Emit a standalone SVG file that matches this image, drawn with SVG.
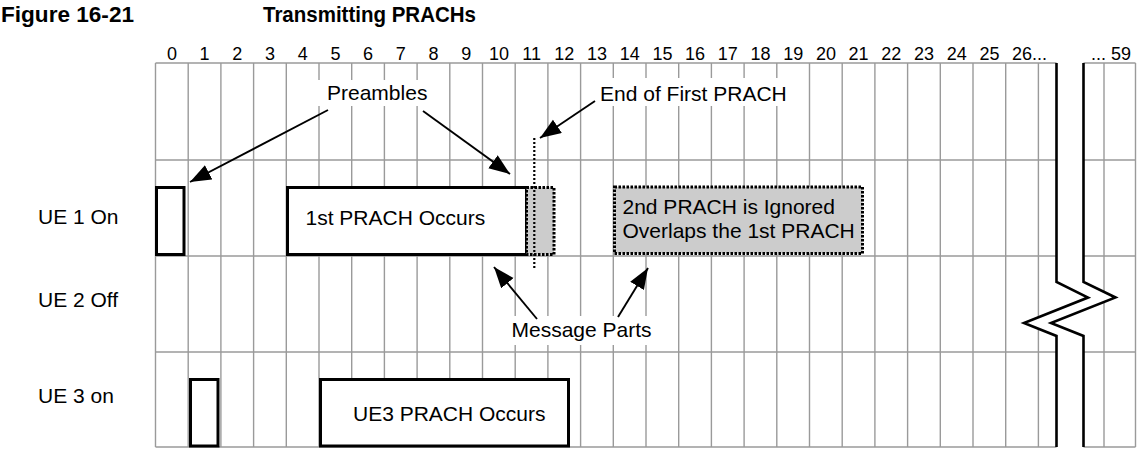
<svg xmlns="http://www.w3.org/2000/svg" width="1142" height="450" viewBox="0 0 1142 450">
<style>
  .title { font-family: "Liberation Sans Narrow", "Liberation Sans", Arial, sans-serif; font-weight: bold; font-size: 22px; fill: #000; }
  .num { font-family: "Liberation Sans", Arial, sans-serif; font-size: 18px; fill: #000; text-anchor: middle; }
  .lbl { font-family: "Liberation Sans", Arial, sans-serif; font-size: 21px; fill: #000; }
  .grid line { stroke: #9a9a9a; stroke-width: 1.4; }
  .solid { fill: #fff; stroke: #000; stroke-width: 3; }
  .dotted { fill: #cccccc; stroke: #000; stroke-width: 3; stroke-dasharray: 2.5 1.5; }
  .arrow { stroke: #000; stroke-width: 1.9; fill: none; marker-end: url(#ah); }
  .brk { fill: none; stroke: #000; stroke-width: 2.6; stroke-linejoin: miter; }
</style>
<defs>
  <marker id="ah" markerUnits="userSpaceOnUse" markerWidth="24" markerHeight="18" refX="21" refY="8" orient="auto">
    <path d="M0,0 L21,8 L0,16 z" fill="#000"/>
  </marker>
</defs>
<rect width="1142" height="450" fill="#fff"/>

<g id="title">
  <text class="title" x="1" y="22" textLength="133" lengthAdjust="spacingAndGlyphs">Figure 16-21</text>
  <text class="title" x="263" y="22" textLength="213" lengthAdjust="spacingAndGlyphs">Transmitting PRACHs</text>
</g>

<g id="ruler">
  <text class="num" x="171.9" y="60">0</text>
  <text class="num" x="204.6" y="60">1</text>
  <text class="num" x="237.3" y="60">2</text>
  <text class="num" x="270" y="60">3</text>
  <text class="num" x="302.7" y="60">4</text>
  <text class="num" x="335.4" y="60">5</text>
  <text class="num" x="368.1" y="60">6</text>
  <text class="num" x="400.8" y="60">7</text>
  <text class="num" x="433.5" y="60">8</text>
  <text class="num" x="466.2" y="60">9</text>
  <text class="num" x="498.9" y="60">10</text>
  <text class="num" x="531.6" y="60">11</text>
  <text class="num" x="564.3" y="60">12</text>
  <text class="num" x="597" y="60">13</text>
  <text class="num" x="629.7" y="60">14</text>
  <text class="num" x="662.4" y="60">15</text>
  <text class="num" x="695.1" y="60">16</text>
  <text class="num" x="727.8" y="60">17</text>
  <text class="num" x="760.5" y="60">18</text>
  <text class="num" x="793.2" y="60">19</text>
  <text class="num" x="825.9" y="60">20</text>
  <text class="num" x="858.6" y="60">21</text>
  <text class="num" x="891.3" y="60">22</text>
  <text class="num" x="924" y="60">23</text>
  <text class="num" x="956.7" y="60">24</text>
  <text class="num" x="989.4" y="60">25</text>
  <text class="num" x="1012" y="60" style="text-anchor:start">26...</text>
  <text class="num" x="1131" y="60" style="text-anchor:end">... 59</text>
</g>

<g id="grid" class="grid">
  <line x1="155.5" y1="63" x2="1135.5" y2="63"/>
  <line x1="155.5" y1="160" x2="1135.5" y2="160"/>
  <line x1="155.5" y1="256" x2="1135.5" y2="256"/>
  <line x1="155.5" y1="352" x2="1135.5" y2="352"/>
  <line x1="155.5" y1="447" x2="1135.5" y2="447"/>
  <line x1="155.5" y1="63" x2="155.5" y2="447"/>
  <line x1="188.2" y1="63" x2="188.2" y2="447"/>
  <line x1="220.9" y1="63" x2="220.9" y2="447"/>
  <line x1="253.6" y1="63" x2="253.6" y2="447"/>
  <line x1="286.3" y1="63" x2="286.3" y2="447"/>
  <line x1="319" y1="63" x2="319" y2="447"/>
  <line x1="351.7" y1="63" x2="351.7" y2="447"/>
  <line x1="384.4" y1="63" x2="384.4" y2="447"/>
  <line x1="417.1" y1="63" x2="417.1" y2="447"/>
  <line x1="449.8" y1="63" x2="449.8" y2="447"/>
  <line x1="482.5" y1="63" x2="482.5" y2="447"/>
  <line x1="515.2" y1="63" x2="515.2" y2="447"/>
  <line x1="547.9" y1="63" x2="547.9" y2="447"/>
  <line x1="580.6" y1="63" x2="580.6" y2="447"/>
  <line x1="613.3" y1="63" x2="613.3" y2="447"/>
  <line x1="646" y1="63" x2="646" y2="447"/>
  <line x1="678.7" y1="63" x2="678.7" y2="447"/>
  <line x1="711.4" y1="63" x2="711.4" y2="447"/>
  <line x1="744.1" y1="63" x2="744.1" y2="447"/>
  <line x1="776.8" y1="63" x2="776.8" y2="447"/>
  <line x1="809.5" y1="63" x2="809.5" y2="447"/>
  <line x1="842.2" y1="63" x2="842.2" y2="447"/>
  <line x1="874.9" y1="63" x2="874.9" y2="447"/>
  <line x1="907.6" y1="63" x2="907.6" y2="447"/>
  <line x1="940.3" y1="63" x2="940.3" y2="447"/>
  <line x1="973" y1="63" x2="973" y2="447"/>
  <line x1="1005.7" y1="63" x2="1005.7" y2="447"/>
  <line x1="1038.4" y1="63" x2="1038.4" y2="447"/>
  <line x1="1104" y1="63" x2="1104" y2="447"/>
  <line x1="1135.5" y1="63" x2="1135.5" y2="447"/>
</g>

<g id="break">
  <polygon points="1056.5,62 1056.5,282 1088,297.5 1024,323 1056.5,336 1056.5,448 1083.5,448 1083.5,336 1051,323 1115.5,297.5 1083.5,282 1083.5,62" fill="#fff" stroke="none"/>
  <polyline class="brk" points="1056.5,63 1056.5,282 1088,297.5 1024,323 1056.5,336 1056.5,447"/>
  <polyline class="brk" points="1083.5,63 1083.5,282 1115.5,297.5 1051,323 1083.5,336 1083.5,447"/>
</g>

<g id="row-labels">
  <text class="lbl" x="38" y="224">UE 1 On</text>
  <text class="lbl" x="38" y="307">UE 2 Off</text>
  <text class="lbl" x="38" y="403">UE 3 on</text>
</g>

<g id="ue1-preamble"><rect class="solid" x="156.5" y="187.5" width="27.5" height="67"/></g>
<g id="prach1">
  <rect class="solid" x="287.5" y="187.5" width="239" height="67"/>
  <text class="lbl" x="305.5" y="225">1st PRACH Occurs</text>
</g>
<g id="prach1-message"><rect class="dotted" x="526.5" y="187.5" width="27.5" height="67"/></g>
<g id="prach2">
  <rect class="dotted" x="614.5" y="187" width="248" height="66.5"/>
  <text class="lbl" x="622.5" y="214">2nd PRACH is Ignored</text>
  <text class="lbl" x="622.5" y="238">Overlaps the 1st PRACH</text>
</g>
<g id="ue3-preamble"><rect class="solid" x="190.5" y="379.5" width="27.5" height="66.5"/></g>
<g id="ue3-prach">
  <rect class="solid" x="320.5" y="379.5" width="248" height="66.5"/>
  <text class="lbl" x="353" y="421">UE3 PRACH Occurs</text>
</g>
<g id="end-marker"><line x1="534.3" y1="138" x2="534.3" y2="268" stroke="#000" stroke-width="2.2" stroke-dasharray="2 2"/></g>

<g id="callouts">
  <rect x="315" y="80" width="118" height="26" fill="#fff"/>
  <text class="lbl" x="327" y="100">Preambles</text>
  <rect x="597" y="78" width="189" height="28" fill="#fff"/>
  <text class="lbl" x="600" y="100.5">End of First PRACH</text>
  <rect x="503" y="316" width="157" height="29" fill="#fff"/>
  <text class="lbl" x="511.5" y="336.5">Message Parts</text>
</g>

<g id="connectors">
  <line class="arrow" x1="328" y1="110" x2="190" y2="182"/>
  <line class="arrow" x1="423" y1="111" x2="510" y2="174"/>
  <line class="arrow" x1="595" y1="101" x2="540" y2="138"/>
  <line class="arrow" x1="537" y1="319" x2="494" y2="267"/>
  <line class="arrow" x1="618" y1="317" x2="648" y2="268"/>
</g>
</svg>
